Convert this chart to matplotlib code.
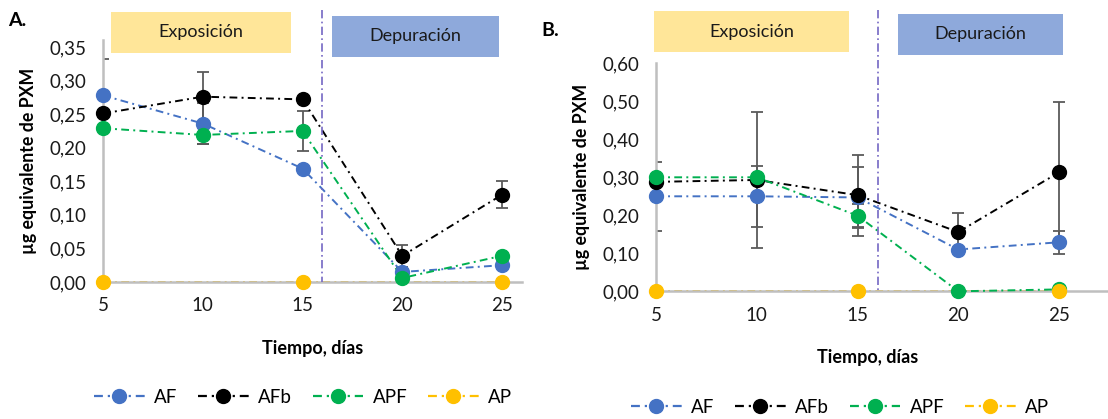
import matplotlib
matplotlib.use("Agg")
import matplotlib.pyplot as plt
from matplotlib.patches import Rectangle
from matplotlib.lines import Line2D
import numpy as np

plt.rcParams['font.family'] = ['Lato', 'DejaVu Sans']

dias = [5, 10, 15, 20, 25]
series = ["AF", "AFb", "APF", "AP"]
colores = ["#4472C4", "#000000", "#00B050", "#FFC000"]

# Panel A values
A_AF = [0.278, 0.236, 0.169, 0.015, 0.025]
A_AFb = [0.251, 0.276, 0.272, 0.039, 0.130]
A_APF = [0.229, 0.219, 0.225, 0.006, 0.039]
A_AP = [0.0, np.nan, 0.0, np.nan, 0.0]
A_AF_err = [0.054, 0.031, 0.0, 0.0, 0.0]
A_AFb_err = [0.0, 0.037, 0.0, 0.016, 0.020]
A_APF_err = [0.0, 0.013, 0.030, 0.0, 0.0]
A_AP_err = [0.0, 0.0, 0.0, 0.0, 0.0]

# Panel B values
B_AF = [0.250, 0.250, 0.247, 0.110, 0.129]
B_AFb = [0.288, 0.293, 0.253, 0.156, 0.313]
B_APF = [0.300, 0.300, 0.199, 0.000, 0.005]
B_AP = [0.0, np.nan, 0.0, np.nan, 0.0]
B_AF_err = [0.090, 0.080, 0.080, 0.0, 0.030]
B_AFb_err = [0.0, 0.180, 0.107, 0.050, 0.184]
B_APF_err = [0.0, 0.0, 0.030, 0.0, 0.0]
B_AP_err = [0.0, 0.0, 0.0, 0.0, 0.0]

A_yticks = [0.0, 0.05, 0.10, 0.15, 0.20, 0.25, 0.30, 0.35]
B_yticks = [0.0, 0.10, 0.20, 0.30, 0.40, 0.50, 0.60]

W, H = 1108, 419
fig = plt.figure(figsize=(W / 100, H / 100), dpi=100)


def ax_px(x0, x1, ytop, ybot):
    return fig.add_axes([x0 / W, 1 - ybot / H, (x1 - x0) / W, (ybot - ytop) / H])


def rect_px(x0, y0, x1, y1, color, text):
    fig.patches.append(Rectangle((x0 / W, 1 - y1 / H), (x1 - x0) / W, (y1 - y0) / H,
                                 transform=fig.transFigure, facecolor=color,
                                 edgecolor='none', zorder=0))
    fig.text((x0 + x1) / 2 / W, 1 - (y0 + y1) / 2 / H, text, ha='center', va='center',
             fontsize=13, color='#1a1a1a')


ls_series = (0, (4, 2.2, 1, 2.2))
MS = 10


def panel(ax, vals, errs, ylim, yticks):
    for v, e, c in zip(vals, errs, colores):
        ev = np.array(e)
        vv = np.array(v, dtype=float)
        mask = ev > 0
        if mask.any():
            ax.errorbar(np.array(dias)[mask], vv[mask], yerr=ev[mask], fmt='none',
                        ecolor='#5a5a5a', elinewidth=1.3, capsize=4, capthick=1.3,
                        zorder=2, clip_on=True)
    for v, c, s in zip(vals, colores, series):
        vv = np.array(v, dtype=float)
        m = ~np.isnan(vv)
        lz = 1 if s == "AP" else 3
        ax.plot(np.array(dias)[m], vv[m], linestyle=ls_series, color=c, lw=1.4,
                clip_on=False, zorder=lz)
        ax.plot(np.array(dias)[m], vv[m], linestyle='none', color=c,
                marker='o', markersize=MS, markeredgecolor=c,
                clip_on=False, zorder=5)
    ax.set_ylim(*ylim)
    ax.set_yticks(yticks)
    ax.set_yticklabels([f"{t:.2f}".replace('.', ',') for t in yticks])
    ax.set_xticks(dias)
    ax.set_xticklabels([str(d) for d in dias])
    for sp in ['top', 'right']:
        ax.spines[sp].set_visible(False)
    for sp in ['left', 'bottom']:
        ax.spines[sp].set_color('#BFBFBF')
        ax.spines[sp].set_linewidth(1.8)
        ax.spines[sp].set_zorder(2.5)
    ax.tick_params(axis='both', length=0, labelsize=13.5, colors='#1a1a1a')
    ax.tick_params(axis='y', pad=12)
    ax.tick_params(axis='x', pad=11)
    ax.set_xlabel("Tiempo, días", fontsize=13, fontweight='bold')
    ax.set_ylabel("µg equivalente de PXM", fontsize=12.8, fontweight='bold')
    ax.patch.set_alpha(0)


# Panel A
axA = ax_px(103, 522, 282 - 0.36 * 671.4, 282)
axA.set_xlim(5, 26)
panel(axA, [A_AF, A_AFb, A_APF, A_AP], [A_AF_err, A_AFb_err, A_APF_err, A_AP_err],
      (0, 0.36), A_yticks)
axA.yaxis.set_label_coords(-(103 - 37) / 419, 0.5)
axA.xaxis.set_label_coords((313 - 103) / 419, -(340 - 282) / (282 - 40.3))

# Panel B
axB = ax_px(656, 1108, 63.3, 291.3)
axB.set_xlim(5, 5 + (1108 - 656) / 20.15)
panel(axB, [B_AF, B_AFb, B_APF, B_AP], [B_AF_err, B_AFb_err, B_APF_err, B_AP_err],
      (0, 0.60), B_yticks)
axB.yaxis.set_label_coords(-(656 - 590) / 452, 0.5)
axB.xaxis.set_label_coords((868 - 656) / 452, -(349 - 291.3) / 228)

# vertical separators (dash-dot)
vcol = '#7467C4'
fig.add_artist(Line2D([(103 + 11 * 19.95) / W] * 2, [1 - 10 / H, 1 - 282 / H],
                      transform=fig.transFigure, color=vcol, lw=1.2,
                      linestyle=(0, (5, 2, 1, 2))))
fig.add_artist(Line2D([(656 + 11 * 20.15) / W] * 2, [1 - 10 / H, 1 - 291.3 / H],
                      transform=fig.transFigure, color=vcol, lw=1.2,
                      linestyle=(0, (5, 2, 1, 2))))

# phase boxes
rect_px(111, 12, 291, 53, '#FFE699', 'Exposición')
rect_px(332, 16, 499, 57, '#8EA9DB', 'Depuración')
rect_px(654, 11, 849, 52, '#FFE699', 'Exposición')
rect_px(898, 14, 1063, 55, '#8EA9DB', 'Depuración')

fig.text(8 / W, 1 - 20 / H, "A.", fontsize=14, fontweight='bold', va='center', ha='left')
fig.text(541 / W, 1 - 30 / H, "B.", fontsize=14, fontweight='bold', va='center', ha='left')

# legends
handles = [Line2D([], [], linestyle=ls_series, color=c, lw=1.6, marker='o',
                  markersize=MS, markeredgecolor=c) for c in colores]
for ax, xc, yc in [(axA, 303, 397), (axB, 840, 407)]:
    ax.legend(handles, series, loc='center', bbox_to_anchor=(xc / W, 1 - yc / H),
              bbox_transform=fig.transFigure, ncol=4, frameon=False, fontsize=13.5,
              handlelength=2.7, columnspacing=1.1, handletextpad=0.5)

fig.savefig("out.png", dpi=100)
